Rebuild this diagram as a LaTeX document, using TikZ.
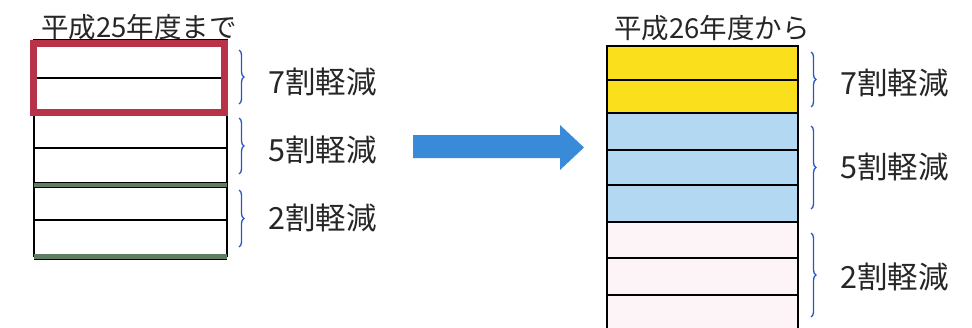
\documentclass[tikz,border=0pt]{standalone}
\usepackage{fontspec}
\setmainfont{Noto Sans CJK JP}
\usetikzlibrary{decorations.pathreplacing}
\definecolor{redbox}{HTML}{B8324A}
\definecolor{greenband}{HTML}{5F7D60}
\definecolor{yellowrow}{HTML}{FAE01C}
\definecolor{bluerow}{HTML}{B2D8F2}
\definecolor{pinkrow}{HTML}{FCF4F7}
\definecolor{bracecol}{HTML}{2456C4}
\definecolor{arrowblue}{HTML}{3A8ADA}
\tikzset{
  rowline/.style={black, line width=1.3pt},
  colborder/.style={black, line width=1.6pt},
  bracepath/.style={bracecol, line width=1.3pt, decorate, decoration={brace, amplitude=5pt}},
  lbl/.style={anchor=west, inner sep=0pt, font=\fontsize{30.5}{30.5}\selectfont, text=black!85},
  ttl/.style={anchor=west, inner sep=0pt, font=\fontsize{27.5}{27.5}\selectfont, text=black!85},
}
\begin{document}
\begin{tikzpicture}[x=1pt,y=-1pt]
\useasboundingbox (0,0) rectangle (972,327);
\clip (0,0) rectangle (972,327);
% ---------- left column ----------
\node[ttl] (t1) at (41,27) {平成25年度まで};
\draw[colborder] (34,40) rectangle (227,256);
\draw[rowline] (34,78) -- (227,78);
\draw[rowline] (34,148) -- (227,148);
\draw[rowline] (34,220) -- (227,220);
\fill[greenband] (34,182) rectangle (227,187);
\draw[black, line width=0.6pt] (34,182) -- (227,182) (34,187) -- (227,187);
\fill[greenband] (34,254) rectangle (227,259);
\draw[black, line width=0.6pt] (34,259) -- (227,259);
\draw[redbox, line width=7pt] (33.5,43.5) rectangle (224.5,112.5);
% braces left
\coordinate (b1a) at (239,50); \coordinate (b1b) at (239,104);
\coordinate (b2a) at (239,118); \coordinate (b2b) at (239,174);
\coordinate (b3a) at (239,190); \coordinate (b3b) at (239,247);
\draw[bracepath] (b1a) -- (b1b);
\draw[bracepath] (b2a) -- (b2b);
\draw[bracepath] (b3a) -- (b3b);
\node[lbl] (l7) at (268,82) {7割軽減};
\node[lbl] (l5) at (268,150) {5割軽減};
\node[lbl] (l2) at (268,218) {2割軽減};
% ---------- arrow ----------
\fill[arrowblue] (413,135) -- (560,135) -- (560,125) -- (584,147.5) -- (560,170) -- (560,158) -- (413,158) -- cycle;
% ---------- right column ----------
\node[ttl] (t2) at (614,28) {平成26年度から};
\fill[yellowrow] (607,46) rectangle (798,113);
\fill[bluerow] (607,113) rectangle (798,222);
\fill[pinkrow] (607,222) rectangle (798,330);
\draw[colborder] (607,330) -- (607,46) -- (798,46) -- (798,330);
\foreach \yy in {80,113,150,185,222,258,295} {
  \draw[rowline] (607,\yy) -- (798,\yy);
}
% braces right
\coordinate (c1a) at (811,52); \coordinate (c1b) at (811,107);
\coordinate (c2a) at (811,126); \coordinate (c2b) at (811,209);
\coordinate (c3a) at (811,233); \coordinate (c3b) at (811,317);
\draw[bracepath] (c1a) -- (c1b);
\draw[bracepath] (c2a) -- (c2b);
\draw[bracepath] (c3a) -- (c3b);
\node[lbl] (r7) at (840,83) {7割軽減};
\node[lbl] (r5) at (840,167) {5割軽減};
\node[lbl] (r2) at (840,277) {2割軽減};
\end{tikzpicture}
\end{document}
